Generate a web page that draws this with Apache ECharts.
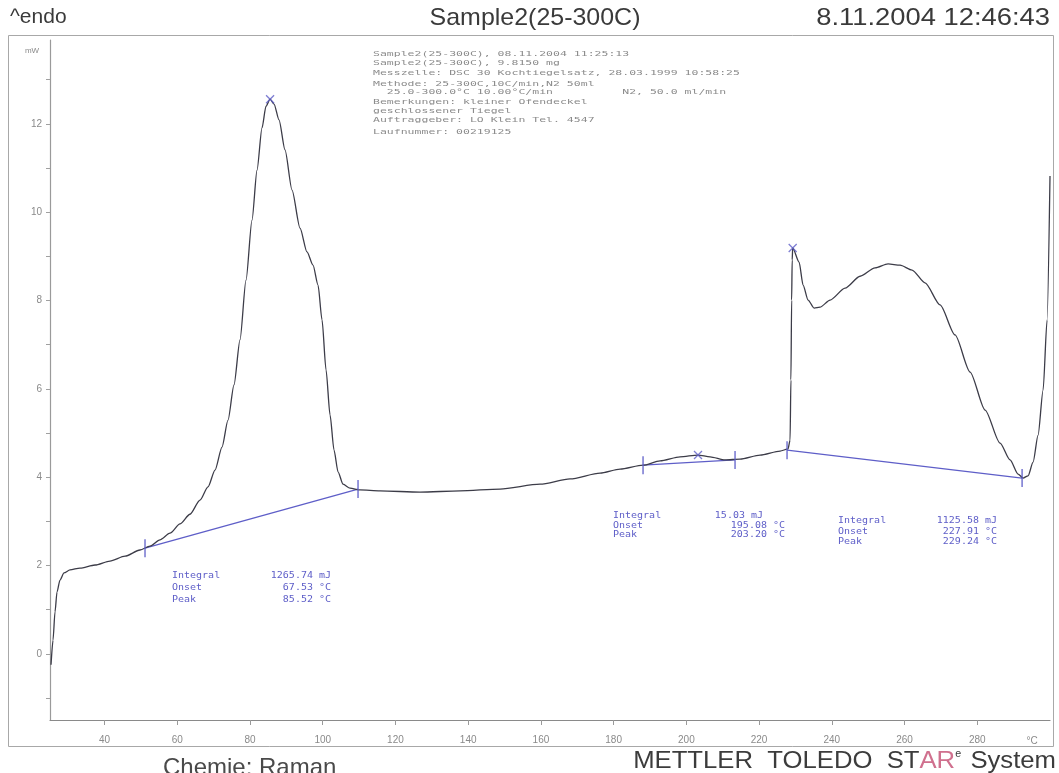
<!DOCTYPE html>
<html>
<head>
<meta charset="utf-8">
<script src="https://cdn.jsdelivr.net/npm/echarts@6/dist/echarts.min.js"></script>
<style>
html,body{margin:0;padding:0;background:#ffffff;}
#chart{width:1059px;height:773px;}
</style>
</head>
<body>
<div id="chart"></div>
<script>
// DSC heat-flow curve, sample 2 heated 25 -> 300 °C
const curveTemp = [
  25.28,25.83,26.38,26.93,27.75,28.85,30.50,33.25,37.38,41.50,
  45.63,49.75,52.50,55.25,58.00,60.75,63.50,66.25,68.45,70.38,
  72.30,73.95,75.60,77.25,78.90,80.55,81.93,83.30,84.40,85.52,
  86.61,87.98,89.63,91.56,93.76,95.68,97.33,98.71,99.81,100.91,
  102.01,103.11,104.21,105.58,107.51,110.26,115.76,126.76,137.76,148.76,
  159.76,168.01,176.27,181.77,188.09,192.77,198.27,203.20,206.52,210.64,
  214.77,220.27,225.77,227.97,228.52,228.75,228.95,229.10,229.24,231.00,
  232.10,233.48,235.12,236.77,239.52,243.64,247.77,251.89,255.47,258.77,
  262.07,265.64,269.77,273.89,278.02,282.15,286.27,289.02,291.22,292.60,
  293.97,295.35,296.72,298.10,299.20,300.00
];
const curveHeatFlow = [
  -0.25,0.31,0.95,1.40,1.67,1.83,1.90,1.94,2.01,2.10,
  2.21,2.35,2.44,2.58,2.73,2.94,3.16,3.48,3.78,4.16,
  4.68,5.29,6.09,7.11,8.46,9.82,10.95,11.91,12.40,12.56,
  12.45,12.09,11.41,10.50,9.64,9.10,8.80,8.35,7.56,6.43,
  5.41,4.61,4.12,3.84,3.75,3.71,3.69,3.66,3.69,3.73,
  3.84,3.96,4.09,4.18,4.27,4.37,4.46,4.50,4.46,4.39,
  4.41,4.50,4.59,4.64,4.84,6.20,8.01,8.92,9.19,8.87,
  8.35,8.01,7.83,7.85,8.01,8.28,8.55,8.74,8.83,8.80,
  8.69,8.40,7.90,7.22,6.38,5.52,4.77,4.39,4.07,3.98,
  4.03,4.34,4.95,5.97,7.56,10.82
];

// Integration limits (°C) and the heat flow at each limit (mW)
const limitStartTemp = [51.13, 188.09, 227.69];
const limitStartHF   = [2.39, 4.27, 4.61];
const limitEndTemp   = [109.71, 213.39, 292.33];
const limitEndHF     = [3.73, 4.39, 3.98];

// Evaluation results
const integralText = ['1265.74 mJ', '15.03 mJ', '1125.58 mJ'];
const onsetTemp    = [67.53, 195.08, 227.91];
const peakTemp     = [85.52, 203.20, 229.24];

// Axis ticks
const tempTicks = [40, 60, 80, 100, 120, 140, 160, 180, 200, 220, 240, 260, 280];
const hfTicks   = [0, 2, 4, 6, 8, 10, 12];
const hfMinorTicks = [-1, 0, 1, 2, 3, 4, 5, 6, 7, 8, 9, 10, 11, 12, 13];

// Header and method block
const headerLeft  = '^endo';
const headerTitle = 'Sample2(25-300C)';
const headerRight = '8.11.2004 12:46:43';
const methodLines = [
  'Sample2(25-300C), 08.11.2004 11:25:13',
  'Sample2(25-300C), 9.8150 mg',
  'Messzelle: DSC 30 Kochtiegelsatz, 28.03.1999 10:58:25',
  'Methode: 25-300C,10C/min,N2 50ml',
  '  25.0-300.0°C 10.00°C/min          N2, 50.0 ml/min',
  'Bemerkungen: kleiner Ofendeckel',
  'geschlossener Tiegel',
  'Auftraggeber: LO Klein Tel. 4547',
  'Laufnummer: 00219125'
];

const curveData = curveTemp.map((t, i) => [t, curveHeatFlow[i]]);

function hfAt(t) {
  for (let i = 1; i < curveTemp.length; i++) {
    if (t <= curveTemp[i]) {
      const f = (t - curveTemp[i - 1]) / (curveTemp[i] - curveTemp[i - 1]);
      return curveHeatFlow[i - 1] + f * (curveHeatFlow[i] - curveHeatFlow[i - 1]);
    }
  }
  return curveHeatFlow[curveHeatFlow.length - 1];
}

const BLUE = '#5e5ec8';
const INK = '#3c3c48';

const baselineSeries = limitStartTemp.map((t, i) => ({
  type: 'line',
  data: [[t, limitStartHF[i]], [limitEndTemp[i], limitEndHF[i]]],
  showSymbol: false,
  silent: true,
  lineStyle: { color: BLUE, width: 1.3 },
  z: 3
}));

const limitMarks = [];
limitStartTemp.forEach((t, i) => {
  limitMarks.push([t, limitStartHF[i]]);
  limitMarks.push([limitEndTemp[i], limitEndHF[i]]);
});

const peakMarks = peakTemp.map(t => [t, hfAt(t)]);

const chart = echarts.init(document.getElementById('chart'), null, { renderer: 'canvas' });

const mono = '"DejaVu Sans Mono", "Liberation Mono", monospace';
const sans = '"Liberation Sans", Arial, sans-serif';

const graphics = [
  // outer frame
  { type: 'rect', shape: { x: 8.5, y: 35.5, width: 1045, height: 711 },
    style: { fill: 'none', stroke: '#a8a8a8', lineWidth: 1 }, silent: true, z: -1 },
  { type: 'text', x: 10, y: 17,
    style: { text: headerLeft, font: '21px ' + sans, fill: '#3a3a3a', textVerticalAlign: 'middle' } },
  { type: 'text', x: 535, y: 18, scaleX: 1.04,
    style: { text: headerTitle, font: '24px ' + sans, fill: '#3a3a3a', textAlign: 'center', textVerticalAlign: 'middle' } },
  { type: 'text', x: 1050, y: 18, scaleX: 1.14,
    style: { text: headerRight, font: '24px ' + sans, fill: '#3a3a3a', textAlign: 'right', textVerticalAlign: 'middle' } },
  { type: 'text', x: 32, y: 51,
    style: { text: 'mW', font: '8px ' + sans, fill: '#8a8a8a', textAlign: 'center', textVerticalAlign: 'middle' } },
  { type: 'text', x: 1032, y: 741,
    style: { text: '°C', font: '10px ' + sans, fill: '#8a8a8a', textAlign: 'center', textVerticalAlign: 'middle' } },
  // footer
  { type: 'text', x: 163, y: 768,
    style: { text: 'Chemie: Raman', font: '24px ' + sans, fill: '#4a4a4a', textAlign: 'left', textVerticalAlign: 'middle' } },
  { type: 'text', x: 1056, y: 761, scaleX: 1.07,
    style: {
      text: '{k|METTLER  TOLEDO  ST}{r|AR}{s|e}{k| System}',
      textAlign: 'right', textVerticalAlign: 'middle',
      rich: {
        k: { font: '24px ' + sans, fill: '#3c3c3c' },
        r: { font: '24px ' + sans, fill: '#d0708e' },
        s: { font: '10px ' + sans, fill: '#3c3c3c', verticalAlign: 'top', padding: [0, 2, 12, 0] }
      }
    } }
];

// method block (compressed monospace printout)
const methodRowY = [54, 63, 73, 84, 92, 102, 111, 120, 132];
methodLines.forEach((line, i) => {
  graphics.push({ type: 'text', x: 373, y: methodRowY[i], scaleY: 0.66,
    style: { text: line, font: '11.5px ' + mono, fill: '#8c8c8c', textVerticalAlign: 'middle' } });
});

// evaluation result blocks
const resultBlocks = [
  { x: 172, y: 576, valRight: [331, 331, 331], dy: 12 },
  { x: 613, y: 516, valRight: [763, 785, 785], dy: 9.5 },
  { x: 838, y: 521, valRight: [997, 997, 997], dy: 10.5 }
];
resultBlocks.forEach((b, i) => {
  const rows = [
    ['Integral', integralText[i]],
    ['Onset', onsetTemp[i].toFixed(2) + ' °C'],
    ['Peak', peakTemp[i].toFixed(2) + ' °C']
  ];
  rows.forEach((r, j) => {
    graphics.push({ type: 'text', x: b.x, y: b.y + j * b.dy, scaleY: 0.8,
      style: { text: r[0], font: '10px ' + mono, fill: BLUE, textVerticalAlign: 'middle' } });
    graphics.push({ type: 'text', x: b.valRight[j], y: b.y + j * b.dy, scaleY: 0.8,
      style: { text: r[1], font: '10px ' + mono, fill: BLUE, textAlign: 'right', textVerticalAlign: 'middle' } });
  });
});

chart.setOption({
  backgroundColor: '#ffffff',
  animation: false,
  grid: { left: 50, right: 9, top: 40, bottom: 53, containLabel: false },
  xAxis: {
    type: 'value', min: 25, max: 300,
    axisLine: { onZero: false, lineStyle: { color: '#8a8a8a', width: 1.2 } },
    axisTick: { customValues: tempTicks, length: 5, lineStyle: { color: '#9a9a9a' } },
    axisLabel: { customValues: tempTicks, color: '#8a8a8a', fontSize: 10, fontFamily: sans, margin: 15 },
    splitLine: { show: false }
  },
  yAxis: {
    type: 'value', min: -1.5, max: 13.9,
    axisLine: { show: true, onZero: false, lineStyle: { color: '#9a9a9a', width: 1.2 } },
    axisTick: { show: true, customValues: hfMinorTicks, length: 4, lineStyle: { color: '#a0a0a0' } },
    axisLabel: { customValues: hfTicks, color: '#8a8a8a', fontSize: 10, fontFamily: sans, margin: 8 },
    splitLine: { show: false }
  },
  graphic: graphics,
  series: [
    {
      type: 'line', data: curveData, showSymbol: false, silent: true,
      smooth: 0.25, smoothMonotone: 'x',
      lineStyle: { color: INK, width: 1.3 }, z: 4
    },
    ...baselineSeries,
    {
      type: 'scatter', data: limitMarks, silent: true,
      symbol: 'rect', symbolSize: [1.6, 18],
      itemStyle: { color: BLUE }, z: 5
    },
    {
      type: 'scatter', data: peakMarks, silent: true,
      symbol: 'path://M0,0L10,10M10,0L0,10', symbolSize: 8,
      itemStyle: { color: 'none', borderColor: BLUE, borderWidth: 1.3 }, z: 6
    }
  ]
});
</script>
</body>
</html>
